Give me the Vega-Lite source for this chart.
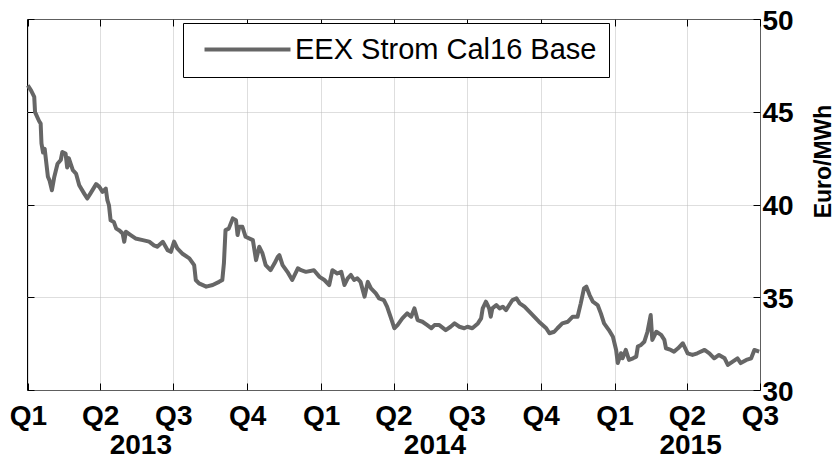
{
  "$schema": "https://vega.github.io/schema/vega-lite/v6.json",
  "width": 733,
  "height": 371,
  "autosize": {"type": "none"},
  "padding": {"left": 27, "top": 19, "right": 76, "bottom": 74},
  "background": "white",
  "config": {
    "view": {"stroke": "black", "strokeWidth": 1},
    "font": "Liberation Sans"
  },
  "data": {
    "values": [
      {"date": "2013-01-01", "price": 46.42},
      {"date": "2013-01-05", "price": 46.15},
      {"date": "2013-01-09", "price": 45.8},
      {"date": "2013-01-10", "price": 44.98},
      {"date": "2013-01-15", "price": 44.5},
      {"date": "2013-01-17", "price": 44.36},
      {"date": "2013-01-18", "price": 43.3},
      {"date": "2013-01-20", "price": 42.8},
      {"date": "2013-01-22", "price": 43.0},
      {"date": "2013-01-26", "price": 41.5},
      {"date": "2013-01-28", "price": 41.3},
      {"date": "2013-01-31", "price": 40.77},
      {"date": "2013-02-03", "price": 41.5},
      {"date": "2013-02-07", "price": 42.2},
      {"date": "2013-02-11", "price": 42.4},
      {"date": "2013-02-13", "price": 42.83},
      {"date": "2013-02-17", "price": 42.75},
      {"date": "2013-02-19", "price": 42.0},
      {"date": "2013-02-21", "price": 42.5},
      {"date": "2013-02-26", "price": 41.85},
      {"date": "2013-03-02", "price": 41.67},
      {"date": "2013-03-06", "price": 41.04},
      {"date": "2013-03-12", "price": 40.6},
      {"date": "2013-03-16", "price": 40.32},
      {"date": "2013-03-20", "price": 40.6},
      {"date": "2013-03-27", "price": 41.1},
      {"date": "2013-03-31", "price": 40.95},
      {"date": "2013-04-04", "price": 40.68},
      {"date": "2013-04-08", "price": 40.86},
      {"date": "2013-04-10", "price": 40.23},
      {"date": "2013-04-12", "price": 39.96},
      {"date": "2013-04-14", "price": 39.15},
      {"date": "2013-04-18", "price": 39.06},
      {"date": "2013-04-21", "price": 38.7},
      {"date": "2013-04-25", "price": 38.6},
      {"date": "2013-04-29", "price": 38.44},
      {"date": "2013-05-01", "price": 37.99},
      {"date": "2013-05-03", "price": 38.53},
      {"date": "2013-05-09", "price": 38.35},
      {"date": "2013-05-15", "price": 38.17},
      {"date": "2013-05-24", "price": 38.08},
      {"date": "2013-06-01", "price": 38.0},
      {"date": "2013-06-07", "price": 37.8},
      {"date": "2013-06-11", "price": 37.72},
      {"date": "2013-06-18", "price": 37.99},
      {"date": "2013-06-24", "price": 37.54},
      {"date": "2013-06-28", "price": 37.45},
      {"date": "2013-07-02", "price": 38.0},
      {"date": "2013-07-06", "price": 37.63},
      {"date": "2013-07-12", "price": 37.36},
      {"date": "2013-07-21", "price": 37.1},
      {"date": "2013-07-27", "price": 36.73},
      {"date": "2013-07-29", "price": 35.93},
      {"date": "2013-08-02", "price": 35.75},
      {"date": "2013-08-11", "price": 35.57},
      {"date": "2013-08-19", "price": 35.66},
      {"date": "2013-08-27", "price": 35.83},
      {"date": "2013-08-31", "price": 35.93},
      {"date": "2013-09-02", "price": 36.83},
      {"date": "2013-09-04", "price": 38.62},
      {"date": "2013-09-08", "price": 38.7},
      {"date": "2013-09-13", "price": 39.25},
      {"date": "2013-09-17", "price": 39.15},
      {"date": "2013-09-19", "price": 38.35},
      {"date": "2013-09-21", "price": 38.8},
      {"date": "2013-09-25", "price": 38.8},
      {"date": "2013-09-29", "price": 38.26},
      {"date": "2013-10-08", "price": 38.08},
      {"date": "2013-10-12", "price": 37.0},
      {"date": "2013-10-16", "price": 37.72},
      {"date": "2013-10-20", "price": 37.36},
      {"date": "2013-10-24", "price": 36.73},
      {"date": "2013-10-30", "price": 36.46},
      {"date": "2013-11-04", "price": 36.83},
      {"date": "2013-11-08", "price": 37.18},
      {"date": "2013-11-10", "price": 37.27},
      {"date": "2013-11-14", "price": 36.73},
      {"date": "2013-11-20", "price": 36.37},
      {"date": "2013-11-26", "price": 35.93},
      {"date": "2013-12-03", "price": 36.56},
      {"date": "2013-12-07", "price": 36.46},
      {"date": "2013-12-13", "price": 36.37},
      {"date": "2013-12-23", "price": 36.46},
      {"date": "2013-12-30", "price": 36.1},
      {"date": "2014-01-05", "price": 35.93},
      {"date": "2014-01-11", "price": 35.66},
      {"date": "2014-01-15", "price": 36.46},
      {"date": "2014-01-21", "price": 36.28},
      {"date": "2014-01-26", "price": 36.37},
      {"date": "2014-01-30", "price": 35.66},
      {"date": "2014-02-03", "price": 36.02},
      {"date": "2014-02-07", "price": 36.2},
      {"date": "2014-02-11", "price": 35.93},
      {"date": "2014-02-15", "price": 36.02},
      {"date": "2014-02-19", "price": 35.83},
      {"date": "2014-02-24", "price": 35.03},
      {"date": "2014-02-28", "price": 35.83},
      {"date": "2014-03-04", "price": 35.48},
      {"date": "2014-03-10", "price": 35.21},
      {"date": "2014-03-14", "price": 34.94},
      {"date": "2014-03-20", "price": 34.85},
      {"date": "2014-03-24", "price": 34.49},
      {"date": "2014-03-29", "price": 33.86},
      {"date": "2014-04-02", "price": 33.33},
      {"date": "2014-04-06", "price": 33.5},
      {"date": "2014-04-12", "price": 33.86},
      {"date": "2014-04-18", "price": 34.13},
      {"date": "2014-04-23", "price": 33.95},
      {"date": "2014-04-27", "price": 34.4},
      {"date": "2014-05-01", "price": 33.77},
      {"date": "2014-05-07", "price": 33.68},
      {"date": "2014-05-13", "price": 33.5},
      {"date": "2014-05-18", "price": 33.33},
      {"date": "2014-05-22", "price": 33.5},
      {"date": "2014-05-28", "price": 33.5},
      {"date": "2014-06-05", "price": 33.23},
      {"date": "2014-06-11", "price": 33.41},
      {"date": "2014-06-16", "price": 33.59},
      {"date": "2014-06-22", "price": 33.41},
      {"date": "2014-06-28", "price": 33.33},
      {"date": "2014-07-02", "price": 33.41},
      {"date": "2014-07-08", "price": 33.33},
      {"date": "2014-07-15", "price": 33.59},
      {"date": "2014-07-19", "price": 33.86},
      {"date": "2014-07-21", "price": 34.4},
      {"date": "2014-07-25", "price": 34.76},
      {"date": "2014-07-29", "price": 34.4},
      {"date": "2014-07-31", "price": 33.95},
      {"date": "2014-08-02", "price": 34.4},
      {"date": "2014-08-07", "price": 34.58},
      {"date": "2014-08-11", "price": 34.4},
      {"date": "2014-08-15", "price": 34.49},
      {"date": "2014-08-19", "price": 34.31},
      {"date": "2014-08-23", "price": 34.58},
      {"date": "2014-08-27", "price": 34.85},
      {"date": "2014-09-01", "price": 34.94},
      {"date": "2014-09-05", "price": 34.67},
      {"date": "2014-09-11", "price": 34.49},
      {"date": "2014-09-17", "price": 34.22},
      {"date": "2014-09-23", "price": 33.95},
      {"date": "2014-09-29", "price": 33.68},
      {"date": "2014-10-08", "price": 33.33},
      {"date": "2014-10-12", "price": 33.06},
      {"date": "2014-10-18", "price": 33.14},
      {"date": "2014-10-22", "price": 33.33},
      {"date": "2014-10-28", "price": 33.59},
      {"date": "2014-11-04", "price": 33.68},
      {"date": "2014-11-10", "price": 33.95},
      {"date": "2014-11-16", "price": 33.95},
      {"date": "2014-11-20", "price": 34.67},
      {"date": "2014-11-24", "price": 35.48},
      {"date": "2014-11-27", "price": 35.57},
      {"date": "2014-12-01", "price": 35.12},
      {"date": "2014-12-05", "price": 34.76},
      {"date": "2014-12-11", "price": 34.58},
      {"date": "2014-12-15", "price": 34.13},
      {"date": "2014-12-19", "price": 33.59},
      {"date": "2014-12-25", "price": 33.23},
      {"date": "2014-12-30", "price": 32.87},
      {"date": "2015-01-03", "price": 32.16},
      {"date": "2015-01-05", "price": 31.45},
      {"date": "2015-01-09", "price": 31.98},
      {"date": "2015-01-11", "price": 31.71},
      {"date": "2015-01-15", "price": 32.16},
      {"date": "2015-01-19", "price": 31.62},
      {"date": "2015-01-24", "price": 31.71},
      {"date": "2015-01-28", "price": 31.8},
      {"date": "2015-01-30", "price": 32.34},
      {"date": "2015-02-03", "price": 32.43},
      {"date": "2015-02-07", "price": 32.6},
      {"date": "2015-02-11", "price": 33.14},
      {"date": "2015-02-15", "price": 34.04},
      {"date": "2015-02-17", "price": 32.7},
      {"date": "2015-02-22", "price": 33.14},
      {"date": "2015-02-28", "price": 32.97},
      {"date": "2015-03-04", "price": 32.7},
      {"date": "2015-03-06", "price": 32.25},
      {"date": "2015-03-12", "price": 32.16},
      {"date": "2015-03-16", "price": 32.07},
      {"date": "2015-03-21", "price": 32.25},
      {"date": "2015-03-27", "price": 32.52},
      {"date": "2015-04-02", "price": 31.98},
      {"date": "2015-04-08", "price": 31.89},
      {"date": "2015-04-14", "price": 31.98},
      {"date": "2015-04-23", "price": 32.16},
      {"date": "2015-04-29", "price": 31.98},
      {"date": "2015-05-05", "price": 31.71},
      {"date": "2015-05-11", "price": 31.89},
      {"date": "2015-05-18", "price": 31.71},
      {"date": "2015-05-22", "price": 31.35},
      {"date": "2015-05-28", "price": 31.53},
      {"date": "2015-06-03", "price": 31.71},
      {"date": "2015-06-07", "price": 31.45},
      {"date": "2015-06-14", "price": 31.62},
      {"date": "2015-06-20", "price": 31.71},
      {"date": "2015-06-24", "price": 32.16},
      {"date": "2015-06-30", "price": 32.07}
    ]
  },
  "layer": [
    {
      "mark": {"type": "line", "strokeWidth": 4, "strokeJoin": "round"},
      "encoding": {
        "x": {
          "field": "date",
          "type": "temporal",
          "scale": {
            "type": "utc",
            "domain": [
              {"year": 2012, "month": 12, "date": 31, "utc": true},
              {"year": 2015, "month": 7, "date": 1, "utc": true}
            ]
          },
          "axis": {
            "orient": "bottom",
            "title": null,
            "values": [
              {"year": 2013, "month": 1, "date": 1, "utc": true},
              {"year": 2013, "month": 4, "date": 1, "utc": true},
              {"year": 2013, "month": 7, "date": 1, "utc": true},
              {"year": 2013, "month": 10, "date": 1, "utc": true},
              {"year": 2014, "month": 1, "date": 1, "utc": true},
              {"year": 2014, "month": 4, "date": 1, "utc": true},
              {"year": 2014, "month": 7, "date": 1, "utc": true},
              {"year": 2014, "month": 10, "date": 1, "utc": true},
              {"year": 2015, "month": 1, "date": 1, "utc": true},
              {"year": 2015, "month": 4, "date": 1, "utc": true},
              {"year": 2015, "month": 7, "date": 1, "utc": true},
              {"year": 2013, "month": 5, "date": 21, "utc": true},
              {"year": 2014, "month": 5, "date": 22, "utc": true},
              {"year": 2015, "month": 4, "date": 5, "utc": true}
            ],
            "labelExpr": "utcdate(datum.value) == 1 ? 'Q' + (floor(utcmonth(datum.value) / 3) + 1) : ['', '' + utcyear(datum.value)]",
            "labelFont": "Liberation Sans",
            "labelFontWeight": "bold",
            "labelFontSize": 28,
            "labelLineHeight": 29,
            "labelColor": "black",
            "labelPadding": 19,
            "labelOverlap": false,
            "labelFlush": false,
            "labelBound": false,
            "domain": false,
            "tickSize": -7,
            "tickColor": "black",
            "tickWidth": 1,
            "tickOpacity": {"condition": {"test": "utcdate(datum.value) != 1", "value": 0}, "value": 1},
            "grid": true,
            "gridColor": "#bdbdbd",
            "gridDash": [1, 1],
            "gridWidth": 1,
            "gridOpacity": {"condition": {"test": "utcdate(datum.value) != 1", "value": 0}, "value": 1}
          }
        },
        "y": {
          "field": "price",
          "type": "quantitative",
          "scale": {"domain": [30, 50], "nice": false, "zero": false},
          "axis": {
            "orient": "right",
            "values": [30, 35, 40, 45, 50],
            "title": "Euro/MWh",
            "titleFont": "Liberation Sans",
            "titleFontWeight": "bold",
            "titleFontSize": 23,
            "titleColor": "black",
            "titleAngle": 270,
            "titleAlign": "center",
            "titleBaseline": "middle",
            "titleX": 63,
            "titleY": 142,
            "labelFont": "Liberation Sans",
            "labelFontWeight": "bold",
            "labelFontSize": 28,
            "labelColor": "black",
            "labelPadding": 9,
            "labelOffset": 2,
            "labelFlush": false,
            "labelBound": false,
            "labelOverlap": false,
            "domain": false,
            "tickSize": -7,
            "tickColor": "black",
            "tickWidth": 1,
            "grid": true,
            "gridColor": "#bdbdbd",
            "gridDash": [1, 1],
            "gridWidth": 1
          }
        },
        "color": {
          "datum": "EEX Strom Cal16 Base",
          "scale": {"range": ["#666666"]},
          "legend": {
            "title": null,
            "orient": "none",
            "legendX": 156,
            "legendY": 4,
            "fillColor": "white",
            "strokeColor": "black",
            "padding": 12,
            "symbolType": "M-4,0H4",
            "symbolSize": 462,
            "symbolStrokeWidth": 4,
            "symbolOffset": 38,
            "labelFont": "Liberation Sans",
            "labelFontSize": 29,
            "labelColor": "black",
            "labelOffset": 33,
            "labelLimit": 0
          }
        }
      }
    },
    {
      "mark": {"type": "line", "strokeOpacity": 0},
      "encoding": {
        "x": {
          "field": "date",
          "type": "temporal",
          "axis": {
            "orient": "top",
            "title": null,
            "values": [
              {"year": 2013, "month": 1, "date": 1, "utc": true},
              {"year": 2013, "month": 4, "date": 1, "utc": true},
              {"year": 2013, "month": 7, "date": 1, "utc": true},
              {"year": 2013, "month": 10, "date": 1, "utc": true},
              {"year": 2014, "month": 1, "date": 1, "utc": true},
              {"year": 2014, "month": 4, "date": 1, "utc": true},
              {"year": 2014, "month": 7, "date": 1, "utc": true},
              {"year": 2014, "month": 10, "date": 1, "utc": true},
              {"year": 2015, "month": 1, "date": 1, "utc": true},
              {"year": 2015, "month": 4, "date": 1, "utc": true},
              {"year": 2015, "month": 7, "date": 1, "utc": true}
            ],
            "labels": false,
            "domain": false,
            "grid": false,
            "tickSize": -7,
            "tickColor": "black",
            "tickWidth": 1
          }
        },
        "y": {
          "field": "price",
          "type": "quantitative",
          "axis": {
            "orient": "left",
            "title": null,
            "values": [30, 35, 40, 45, 50],
            "labels": false,
            "domain": false,
            "grid": false,
            "tickSize": -7,
            "tickColor": "black",
            "tickWidth": 1
          }
        }
      }
    }
  ],
  "resolve": {"axis": {"x": "independent", "y": "independent"}}
}
